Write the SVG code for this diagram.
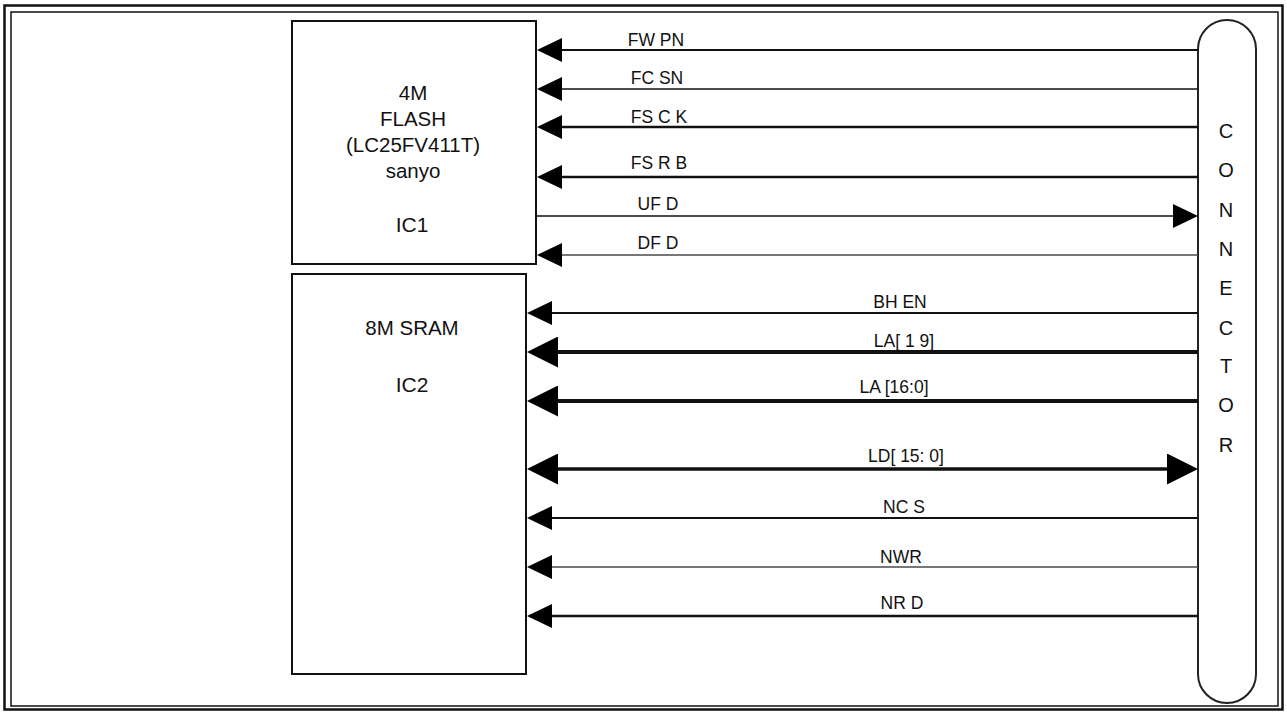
<svg xmlns="http://www.w3.org/2000/svg" width="1287" height="714" viewBox="0 0 1287 714">
<style>
.frame{fill:none;stroke:#111}
.box{fill:#fff;stroke:#111;stroke-width:2}
.pill{fill:#fff;stroke:#222;stroke-width:2}
.t{font-family:"Liberation Sans",Arial,sans-serif;fill:#111}
.boxt{font-size:20.5px;text-anchor:middle}
.ict{font-size:21px;text-anchor:middle}
.lbl{font-size:17.5px;text-anchor:middle}
.cn{font-size:20px;text-anchor:middle}
.w{fill:none;stroke:#111}
.gray{stroke:#4a4a4a}
</style>
<defs>
<marker id="s" viewBox="0 0 25 24" refX="1" refY="12" markerWidth="25" markerHeight="24" markerUnits="userSpaceOnUse" orient="auto-start-reverse">
<path d="M0,0 L25,12 L0,24 z" fill="#000"/>
</marker>
<marker id="l" viewBox="0 0 31 31" refX="1" refY="15.5" markerWidth="31" markerHeight="31" markerUnits="userSpaceOnUse" orient="auto-start-reverse">
<path d="M0,0 L31,15.5 L0,31 z" fill="#000"/>
</marker>
</defs>
<rect width="1287" height="714" fill="#fff"/>
<rect class="frame" x="4.5" y="5.5" width="1278" height="704" stroke-width="2.5"/>
<rect class="frame" x="11" y="12" width="1267" height="694" stroke-width="1.5"/>

<g id="ic1">
<rect class="box" x="292" y="21" width="244" height="243"/>
<text class="t boxt" x="413" y="100">4M</text>
<text class="t boxt" x="413" y="126">FLASH</text>
<text class="t boxt" x="413" y="152">(LC25FV411T)</text>
<text class="t boxt" x="413" y="178">sanyo</text>
<text class="t ict" x="412" y="232">IC1</text>
</g>

<g id="ic2">
<rect class="box" x="292" y="274" width="234" height="400"/>
<text class="t boxt" x="412" y="335">8M SRAM</text>
<text class="t ict" x="412" y="392">IC2</text>
</g>

<g id="connector">
<rect class="pill" x="1198" y="20" width="58" height="683" rx="29" ry="29"/>
<text class="t cn" x="1226" y="138">C</text>
<text class="t cn" x="1226" y="177">O</text>
<text class="t cn" x="1226" y="217">N</text>
<text class="t cn" x="1226" y="256">N</text>
<text class="t cn" x="1226" y="295">E</text>
<text class="t cn" x="1226" y="335">C</text>
<text class="t cn" x="1226" y="373">T</text>
<text class="t cn" x="1226" y="412">O</text>
<text class="t cn" x="1226" y="452">R</text>
</g>

<g id="connectors">
<line class="w" x1="1198" y1="50" x2="561" y2="50" stroke-width="2" marker-end="url(#s)"/>
<line class="w" x1="1198" y1="89" x2="561" y2="89" stroke-width="1.5" marker-end="url(#s)"/>
<line class="w" x1="1198" y1="127" x2="561" y2="127" stroke-width="2.5" marker-end="url(#s)"/>
<line class="w" x1="1198" y1="177" x2="561" y2="177" stroke-width="2.5" marker-end="url(#s)"/>
<line class="w" x1="537" y1="216" x2="1174" y2="216" stroke-width="1.5" marker-end="url(#s)"/>
<line class="w gray" x1="1198" y1="255" x2="561" y2="255" stroke-width="1.5" marker-end="url(#s)"/>
<line class="w" x1="1198" y1="313" x2="551" y2="313" stroke-width="2" marker-end="url(#s)"/>
<line class="w" x1="1198" y1="352" x2="557" y2="352" stroke-width="4" marker-end="url(#l)"/>
<line class="w" x1="1198" y1="401" x2="557" y2="401" stroke-width="4" marker-end="url(#l)"/>
<line class="w" x1="557" y1="469" x2="1168" y2="469" stroke-width="3.5" marker-start="url(#l)" marker-end="url(#l)"/>
<line class="w" x1="1198" y1="518" x2="551" y2="518" stroke-width="2" marker-end="url(#s)"/>
<line class="w gray" x1="1198" y1="567" x2="551" y2="567" stroke-width="1.5" marker-end="url(#s)"/>
<line class="w" x1="1198" y1="616" x2="551" y2="616" stroke-width="2.5" marker-end="url(#s)"/>

<text class="t lbl" x="656" y="46">FW PN</text>
<text class="t lbl" x="657" y="84">FC SN</text>
<text class="t lbl" x="659" y="123">FS C K</text>
<text class="t lbl" x="659" y="169">FS R B</text>
<text class="t lbl" x="658" y="210">UF D</text>
<text class="t lbl" x="658" y="249">DF D</text>
<text class="t lbl" x="900" y="308">BH EN</text>
<text class="t lbl" x="904" y="347">LA[ 1 9]</text>
<text class="t lbl" x="894" y="393">LA [16:0]</text>
<text class="t lbl" x="906" y="462">LD[ 15: 0]</text>
<text class="t lbl" x="904" y="513">NC S</text>
<text class="t lbl" x="901" y="563">NWR</text>
<text class="t lbl" x="902" y="609">NR D</text>
</g>
</svg>
